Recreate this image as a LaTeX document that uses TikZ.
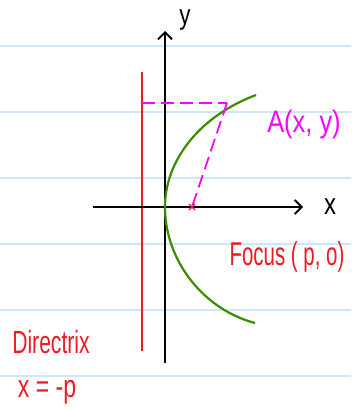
\documentclass[tikz,border=0pt]{standalone}
\usepackage{fontspec}
\setmainfont{Liberation Sans}
\usetikzlibrary{arrows.meta,calc}
\definecolor{rulecol}{RGB}{204,230,250}
\definecolor{hred}{RGB}{236,28,36}
\definecolor{hmag}{RGB}{255,0,255}
\definecolor{hgreen}{RGB}{60,140,0}
\tikzset{
  ruleline/.style={rulecol,line width=1.6pt},
  axisline/.style={black,line width=1.8pt,-{Straight Barb[length=7pt,width=14pt,line width=1.8pt]}},
  dirline/.style={hred,line width=1.4pt},
  curveline/.style={hgreen,line width=2.2pt},
  dashline/.style={hmag,line width=1.8pt,dash pattern=on 13pt off 6pt},
  lab/.style={inner sep=0pt,anchor=center},
}
\begin{document}
\begin{tikzpicture}[x=1pt,y=-1pt]
\useasboundingbox (0,0) rectangle (351,409);
\fill[white] (0,0) rectangle (351,409);
% ruled lines
\foreach \yy in {46,112,178,244,310,376}{
  \draw[ruleline] (0,\yy) -- (351,\yy);
}
% coordinates
\coordinate (xs) at (93,207);
\coordinate (xe) at (303,207);
\coordinate (ys) at (165,363);
\coordinate (ye) at (165,31);
\coordinate (dtop) at (142,72);
\coordinate (dbot) at (142,351);
\coordinate (F) at (192,207);
\coordinate (A) at (227,103);
\coordinate (Ad) at (142,103);
\coordinate (ptop) at (256,95);
\coordinate (V) at (165,207);
\coordinate (pbot) at (255,323);
% directrix
\draw[dirline] (dtop) -- (dbot);
% axes
\draw[axisline] (xs) -- (xe);
\draw[axisline] (ys) -- (ye);
% parabola (hand drawn arc)
\draw[curveline] (ptop) .. controls (200,116) and (165,160) .. (V)
   .. controls (165,262) and (205,310) .. (pbot);
% dashed distances
\draw[dashline] (Ad) -- (A);
\draw[dashline] (A) -- (F);
% focus mark
\draw[hred,line width=1.2pt] ($(F)+(-3,-3)$) -- ($(F)+(3,3)$) ($(F)+(-3,3)$) -- ($(F)+(3,-3)$);
% labels
\node[lab,font=\fontsize{28}{28}\selectfont] (ylab) at (185,20) {\scalebox{0.8}[1]{y}};
\node[lab,font=\fontsize{30}{30}\selectfont] (xlab) at (330,207) {\scalebox{0.8}[1]{x}};
\node[lab,hmag,font=\fontsize{31}{31}\selectfont] (alab) at (304,124) {\scalebox{0.82}[1]{A(x, y)}};
\node[lab,hred,font=\fontsize{33}{33}\selectfont] (flab) at (287,257) {\scalebox{0.62}[1]{Focus ( p, o)}};
\node[lab,hred,font=\fontsize{32}{32}\selectfont] (dlab) at (51,342) {\scalebox{0.66}[1]{Directrix}};
\node[lab,hred,font=\fontsize{32}{32}\selectfont] (elab) at (47,392) {\scalebox{0.72}[1]{x = -p}};
\end{tikzpicture}
\end{document}
